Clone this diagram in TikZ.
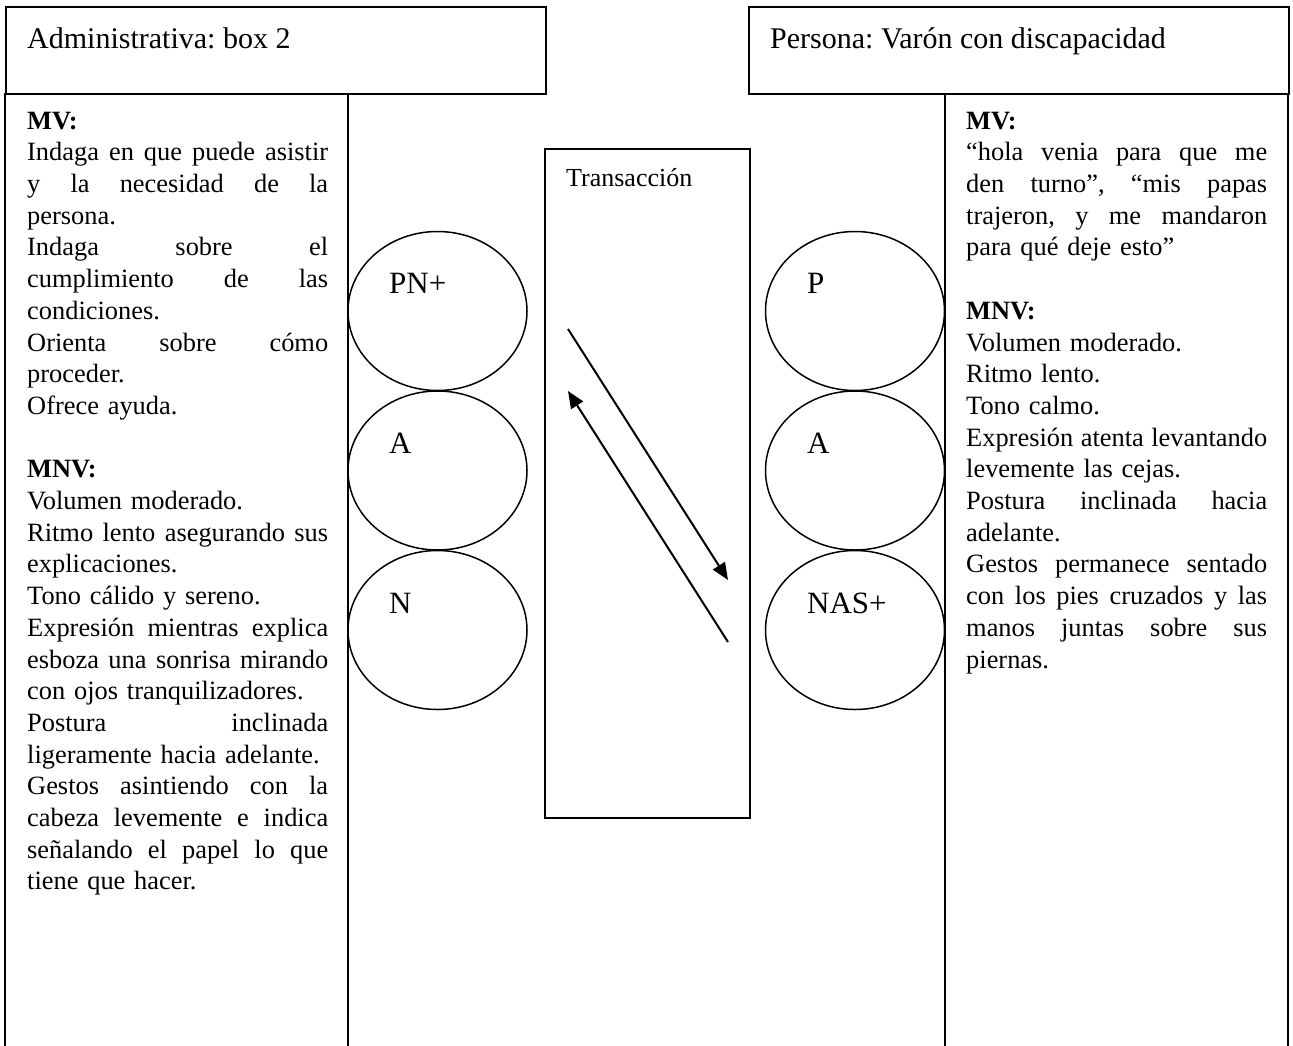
\documentclass[tikz,border=0pt]{standalone}
\usepackage{fontspec}
\setmainfont{Liberation Serif}
\usetikzlibrary{arrows.meta,shapes.geometric}
\setlength\parindent{0pt}
\frenchspacing
\newcommand\jl[1]{\leavevmode\hbox to 301pt{\spaceskip=0pt plus 1fil\xspaceskip=0pt plus 1fil\relax #1}}
\begin{document}
\begin{tikzpicture}[x=1pt,y=-1pt,
  frame/.style={draw, line width=2pt, inner sep=0pt, anchor=north west},
  rule/.style={line width=2pt},
  ego/.style={draw, ellipse, line width=1.5pt, minimum width=179pt, minimum height=159pt, inner sep=0pt},
  egolabel/.style={anchor=base west, inner sep=0pt, font=\fontsize{31}{36}\selectfont},
  title/.style={anchor=base west, inner sep=0pt, font=\fontsize{30}{36}\selectfont},
  body/.style={anchor=north west, inner sep=0pt, text width=301pt, align=left, font=\fontsize{26.4}{31.7}\selectfont},
  msg/.style={line width=2pt, -{Triangle[length=17pt,width=14pt]}}
]
\useasboundingbox (0,0) rectangle (1293,1045);
\fill[white] (0,0) rectangle (1293,1045);

% header boxes
\node[frame, minimum width=540pt, minimum height=87pt] (adminbox) at (5,6) {};
\node[frame, minimum width=540pt, minimum height=87pt] (persbox) at (748,6) {};
\node[title] (admintitle) at (27,48) {Administrativa: box 2};
\node[title] (perstitle) at (770,48) {Persona: Varón con discapacidad};

% columns
\coordinate (l1) at (5,93);   \coordinate (l1b) at (5,1046);
\coordinate (l2) at (348,93); \coordinate (l2b) at (348,1046);
\coordinate (r1) at (945,93); \coordinate (r1b) at (945,1046);
\coordinate (r2) at (1288,93); \coordinate (r2b) at (1288,1046);
\draw[rule] (l1) -- (l1b);
\draw[rule] (l2) -- (l2b);
\draw[rule] (r1) -- (r1b);
\draw[rule] (r2) -- (r2b);

% transaction box
\node[frame, line width=1.8pt, minimum width=205pt, minimum height=669pt] (trans) at (544,148) {};
\node[anchor=base west, inner sep=0pt, font=\fontsize{26}{30}\selectfont] (translabel) at (566,186) {Transacción};

% ego states left
\node[ego] (lp) at (437.5,311) {};
\node[ego] (la) at (437.5,470.5) {};
\node[ego] (ln) at (437.5,630) {};
\node[egolabel] (lpt) at (389,293) {PN+};
\node[egolabel] (lat) at (389,453) {A};
\node[egolabel] (lnt) at (389,613) {N};

% ego states right
\node[ego] (rp) at (855,311) {};
\node[ego] (ra) at (855,470.5) {};
\node[ego] (rn) at (855,630) {};
\node[egolabel] (rpt) at (807,293) {P};
\node[egolabel] (rat) at (807,453) {A};
\node[egolabel] (rnt) at (807,613) {NAS+};

% transactions
\coordinate (a1s) at (568,329); \coordinate (a1e) at (728,580);
\coordinate (a2s) at (728,642); \coordinate (a2e) at (568,391);
\draw[msg] (a1s) -- (a1e);
\draw[msg] (a2s) -- (a2e);

% left text
\node[body] (lefttext) at (27,106.8) {\strut\textbf{MV:}\\
\jl{Indaga en que puede asistir}\\
\jl{y la necesidad de la}\\
persona.\\
\jl{Indaga sobre el}\\
\jl{cumplimiento de las}\\
condiciones.\\
\jl{Orienta sobre cómo}\\
proceder.\\
Ofrece ayuda.\\[31.7pt]
\textbf{MNV:}\\
Volumen moderado.\\
\jl{Ritmo lento asegurando sus}\\
explicaciones.\\
Tono cálido y sereno.\\
\jl{Expresión mientras explica}\\
\jl{esboza una sonrisa mirando}\\
con ojos tranquilizadores.\\
\jl{Postura inclinada}\\
ligeramente hacia adelante.\\
\jl{Gestos asintiendo con la}\\
\jl{cabeza levemente e indica}\\
\jl{señalando el papel lo que}\\
tiene que hacer.};

% right text
\node[body] (righttext) at (966,106.8) {\strut\textbf{MV:}\\
\jl{“hola venia para que me}\\
\jl{den turno”, “mis papas}\\
\jl{trajeron, y me mandaron}\\
para qué deje esto”\\[31.7pt]
\textbf{MNV:}\\
Volumen moderado.\\
Ritmo lento.\\
Tono calmo.\\
\jl{Expresión atenta levantando}\\
levemente las cejas.\\
\jl{Postura inclinada hacia}\\
adelante.\\
\jl{Gestos permanece sentado}\\
\jl{con los pies cruzados y las}\\
\jl{manos juntas sobre sus}\\
piernas.};
\end{tikzpicture}
\end{document}
